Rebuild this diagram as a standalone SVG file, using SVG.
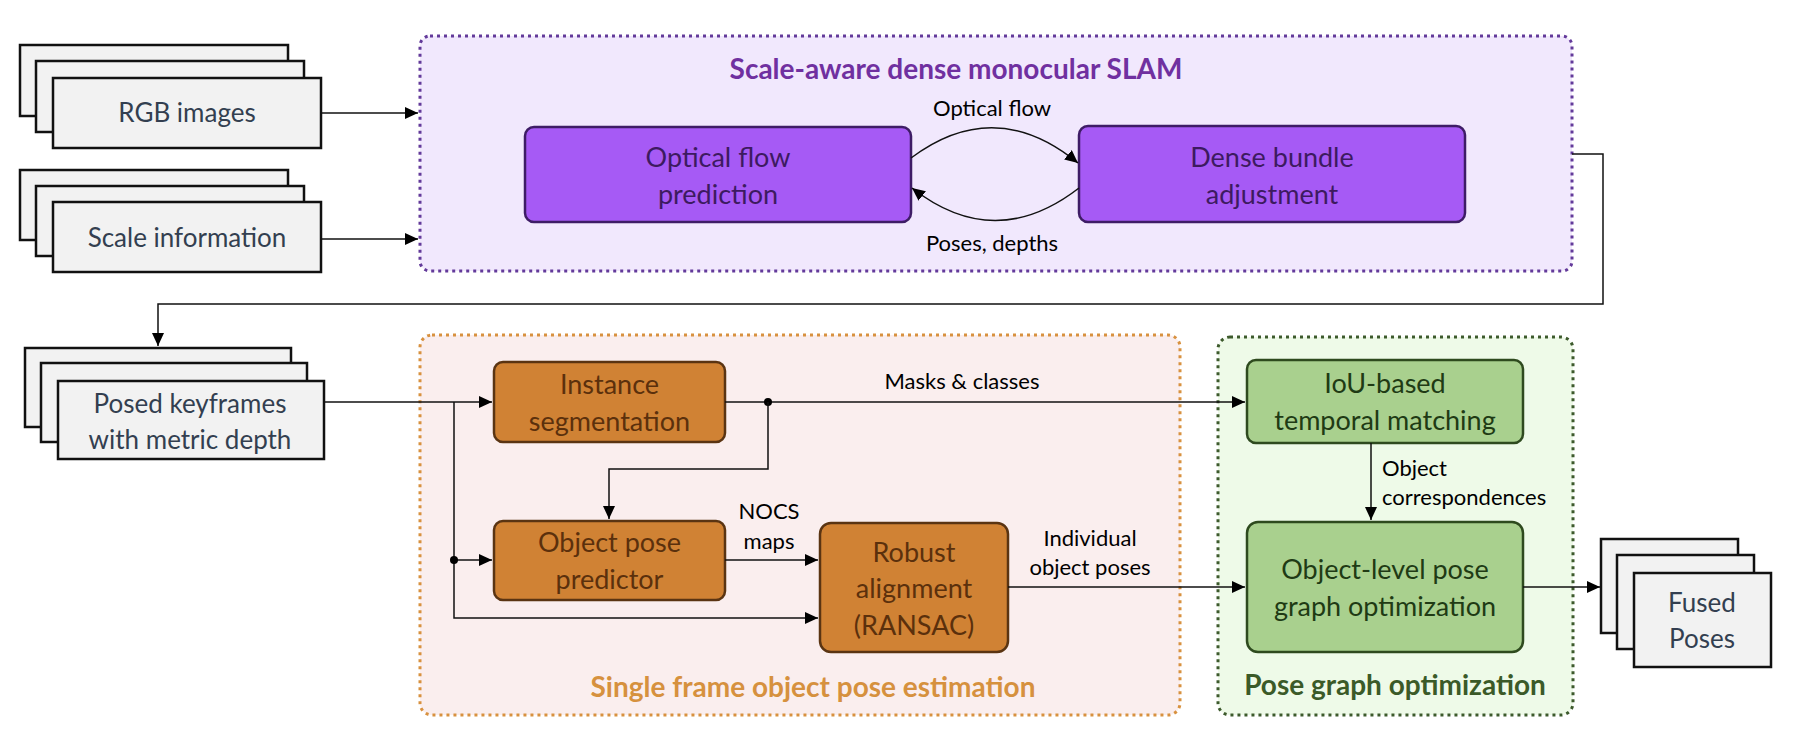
<svg xmlns="http://www.w3.org/2000/svg" width="1794" height="738" viewBox="0 0 1794 738">
<style>
text{font-family:Lato,"Open Sans","Liberation Sans",sans-serif;}
.stack{fill:#F2F2F2;stroke:#111;stroke-width:2.5;}
.stxt{font-size:26px;fill:#333F50;text-anchor:middle;}
.pbox{fill:#A65AF5;stroke:#3E1C66;stroke-width:2.5;}
.ptxt{font-size:27px;fill:#3D1A60;text-anchor:middle;}
.obox{fill:#D08234;stroke:#5A3412;stroke-width:2.5;}
.otxt{font-size:27px;fill:#5B300C;text-anchor:middle;}
.gbox{fill:#A9D08E;stroke:#2E4A1E;stroke-width:2.5;}
.gtxt{font-size:27px;fill:#203A14;text-anchor:middle;}
.lbl{font-size:22px;fill:#000;}
.c{text-anchor:middle;}
.conn{fill:none;stroke:#111;stroke-width:1.5;}
.title{font-size:28px;font-weight:bold;text-anchor:middle;}
</style>
<defs>
<marker id="ah" markerUnits="userSpaceOnUse" markerWidth="14" markerHeight="13" refX="13" refY="6" orient="auto">
<path d="M0,0 L13,6 L0,12 z" fill="#000"/>
</marker>
</defs>

<g id="slam-container">
<rect x="420" y="36" width="1152" height="235" rx="10" fill="#F1E8FD" stroke="#633A9A" stroke-width="3" stroke-dasharray="3 4"/>
<text class="title" x="956" y="79" fill="#7030A0">Scale-aware dense monocular SLAM</text>
</g>
<g id="single-frame-container">
<rect x="420" y="335" width="760" height="380" rx="12" fill="#FAEEEE" stroke="#D8913F" stroke-width="3" stroke-dasharray="3 4"/>
<text class="title" x="813" y="697" fill="#D6913E">Single frame object pose estimation</text>
</g>
<g id="pgo-container">
<rect x="1218" y="337" width="355" height="378" rx="12" fill="#EEFAE8" stroke="#3D5A2C" stroke-width="3" stroke-dasharray="3 4"/>
<text class="title" x="1395" y="695" fill="#3B5A28">Pose graph optimization</text>
</g>

<g id="rgb-images">
<rect class="stack" x="20" y="45" width="268" height="71"/>
<rect class="stack" x="36" y="61" width="268" height="71"/>
<rect class="stack" x="53" y="78" width="268" height="70"/>
<text class="stxt" x="187" y="122">RGB images</text>
</g>
<g id="scale-information">
<rect class="stack" x="20" y="170" width="268" height="70"/>
<rect class="stack" x="36" y="186" width="268" height="70"/>
<rect class="stack" x="53" y="202" width="268" height="70"/>
<text class="stxt" x="187" y="247">Scale information</text>
</g>
<g id="posed-keyframes">
<rect class="stack" x="25" y="348" width="266" height="79"/>
<rect class="stack" x="41" y="363" width="266" height="79"/>
<rect class="stack" x="58" y="381" width="266" height="78"/>
<text class="stxt" x="190" y="413">Posed keyframes</text>
<text class="stxt" x="190" y="449">with metric depth</text>
</g>
<g id="fused-poses">
<rect class="stack" x="1601" y="539" width="137" height="94"/>
<rect class="stack" x="1617" y="555" width="137" height="94"/>
<rect class="stack" x="1634" y="573" width="137" height="94"/>
<text class="stxt" x="1702" y="612">Fused</text>
<text class="stxt" x="1702" y="648">Poses</text>
</g>

<g id="optical-flow-prediction">
<rect class="pbox" x="525" y="127" width="386" height="95" rx="9"/>
<text class="ptxt" x="718" y="167">Optical flow</text>
<text class="ptxt" x="718" y="204">prediction</text>
</g>
<g id="dense-bundle-adjustment">
<rect class="pbox" x="1079" y="126" width="386" height="96" rx="9"/>
<text class="ptxt" x="1272" y="167">Dense bundle</text>
<text class="ptxt" x="1272" y="204">adjustment</text>
</g>
<g id="instance-segmentation">
<rect class="obox" x="494" y="362" width="231" height="80" rx="9"/>
<text class="otxt" x="609.5" y="394">Instance</text>
<text class="otxt" x="609.5" y="431">segmentation</text>
</g>
<g id="object-pose-predictor">
<rect class="obox" x="494" y="521" width="231" height="79" rx="9"/>
<text class="otxt" x="609.5" y="552">Object pose</text>
<text class="otxt" x="609.5" y="589">predictor</text>
</g>
<g id="robust-alignment">
<rect class="obox" x="820" y="523" width="188" height="129" rx="11"/>
<text class="otxt" x="914" y="562">Robust</text>
<text class="otxt" x="914" y="598">alignment</text>
<text class="otxt" x="914" y="635">(RANSAC)</text>
</g>
<g id="iou-matching">
<rect class="gbox" x="1247" y="360" width="276" height="83" rx="9"/>
<text class="gtxt" x="1385" y="393">IoU-based</text>
<text class="gtxt" x="1385" y="430">temporal matching</text>
</g>
<g id="object-level-pgo">
<rect class="gbox" x="1247" y="522" width="276" height="130" rx="11"/>
<text class="gtxt" x="1385" y="579">Object-level pose</text>
<text class="gtxt" x="1385" y="616">graph optimization</text>
</g>

<g id="connectors">
<path class="conn" d="M321,113 H418" marker-end="url(#ah)"/>
<path class="conn" d="M321,239 H418" marker-end="url(#ah)"/>
<path class="conn" d="M911,158 Q995,95 1078,163" marker-end="url(#ah)"/>
<path class="conn" d="M1079,188 Q995,253 912,188" marker-end="url(#ah)"/>
<path class="conn" d="M1572,154 H1603 V304 H158 V346" marker-end="url(#ah)"/>
<path class="conn" d="M324,402 H492" marker-end="url(#ah)"/>
<path class="conn" d="M454,402 V618 H818" marker-end="url(#ah)"/>
<path class="conn" d="M454,560 H492" marker-end="url(#ah)"/>
<circle cx="454" cy="560" r="4" fill="#000"/>
<path class="conn" d="M725,402 H1245" marker-end="url(#ah)"/>
<circle cx="768" cy="402" r="4" fill="#000"/>
<path class="conn" d="M768,402 V469 H609 V519" marker-end="url(#ah)"/>
<path class="conn" d="M725,560 H818" marker-end="url(#ah)"/>
<path class="conn" d="M1008,587 H1245" marker-end="url(#ah)"/>
<path class="conn" d="M1371,443 V520" marker-end="url(#ah)"/>
<path class="conn" d="M1523,587 H1600" marker-end="url(#ah)"/>
<text class="lbl c" x="992" y="116">Optical flow</text>
<text class="lbl c" x="992" y="251">Poses, depths</text>
<text class="lbl c" x="962" y="389">Masks &amp; classes</text>
<text class="lbl c" x="769" y="519">NOCS</text>
<text class="lbl c" x="769" y="549">maps</text>
<text class="lbl c" x="1090" y="546">Individual</text>
<text class="lbl c" x="1090" y="575">object poses</text>
<text class="lbl" x="1382" y="476">Object</text>
<text class="lbl" x="1382" y="505">correspondences</text>
</g>
</svg>
